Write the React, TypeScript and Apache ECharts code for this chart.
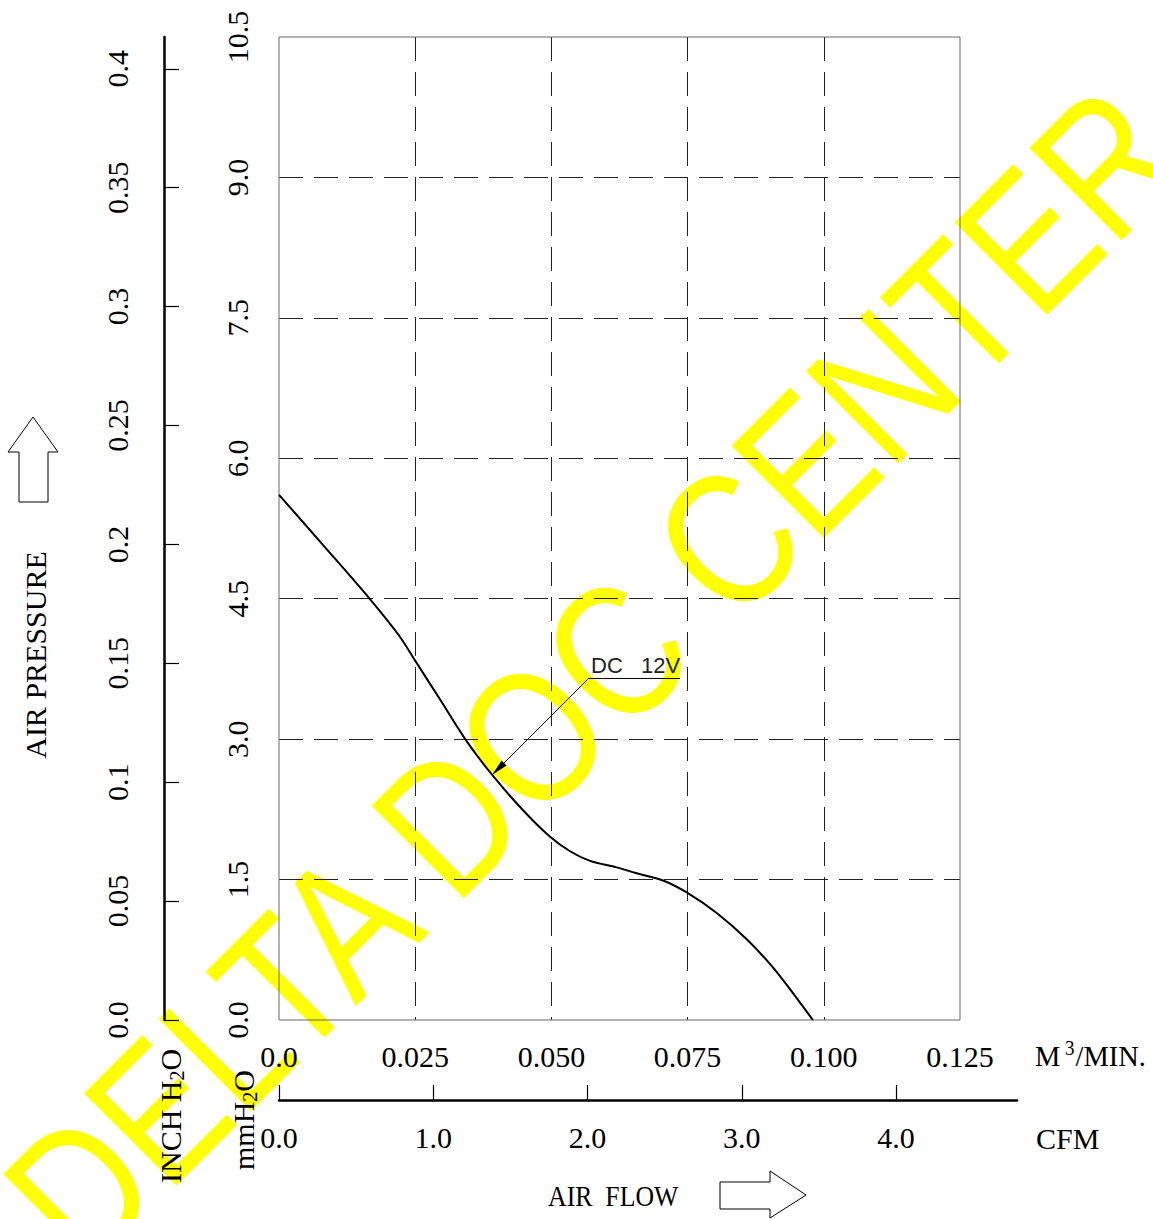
import React, { useEffect, useRef } from "react";
import * as echarts from "echarts";

// ---- data ----
const FLOW_M3 = [0, 0.0083, 0.0165, 0.022, 0.0252, 0.0296, 0.0343, 0.0391, 0.0448, 0.0497, 0.0535, 0.0571, 0.062, 0.0655, 0.0705, 0.0749, 0.0804, 0.0859, 0.0907, 0.0943, 0.098];
const PRESSURE_MM = [5.61, 5.06, 4.51, 4.11, 3.82, 3.42, 2.99, 2.62, 2.24, 1.96, 1.8, 1.7, 1.63, 1.57, 1.49, 1.36, 1.14, 0.86, 0.56, 0.29, 0];

const M3_MIN = 0;
const M3_MAX = 0.125;
const M3_STEP = 0.025;
const MM_MIN = 0;
const MM_MAX = 10.5;
const MM_STEP = 1.5;
const INCH_TICKS = [0, 0.05, 0.1, 0.15, 0.2, 0.25, 0.3, 0.35, 0.4];
const INCH_MAX = 10.5 / 25.4;
const CFM_TICKS = [0, 1, 2, 3, 4];
const CFM_MAX = 4.784;

const LABEL_ANCHOR = [0.0569, 3.653];
const LABEL_END = [0.0736, 3.653];
const ARROW_TIP = [0.0391, 2.617];
const CURVE_NAME = "DC   12V";

const SERIF = "'Liberation Serif', 'Times New Roman', serif";
const SANS = "'Liberation Sans', Arial, sans-serif";

export default function App() {
  const ref = useRef<HTMLDivElement>(null);

  useEffect(() => {
    const chart = echarts.init(ref.current!, null, { renderer: "svg" });
    const labelBase = { fontFamily: SERIF, fontSize: 30, color: "#000" };
    const dashed = { type: [24, 11], color: "#222", width: 1 };

    const option: any = {
      animation: false,
      backgroundColor: "#fff",
      textStyle: { fontFamily: SERIF },
      grid: [
        { left: 279, top: 37, width: 681, height: 983, show: true, borderColor: "#666", borderWidth: 1, backgroundColor: "transparent", z: 1 },
        { left: 279, top: 1080, width: 738, height: 20, show: false },
      ],
      xAxis: [
        {
          gridIndex: 0, type: "value", min: M3_MIN, max: M3_MAX, interval: M3_STEP,
          axisLine: { show: false }, axisTick: { show: false },
          axisLabel: { ...labelBase, margin: 21, formatter: (v: number) => (v === 0 ? "0.0" : v.toFixed(3)) },
          splitLine: { show: true, showMinLine: false, showMaxLine: false, lineStyle: dashed },
        },
        {
          gridIndex: 1, type: "value", min: 0, max: CFM_MAX,
          axisLine: { show: true, lineStyle: { color: "#000", width: 2.5 } },
          axisTick: { show: true, inside: true, length: 15, customValues: CFM_TICKS, lineStyle: { color: "#000", width: 1.2 } },
          axisLabel: { ...labelBase, margin: 22, customValues: CFM_TICKS, formatter: (v: number) => v.toFixed(1) },
          splitLine: { show: false },
        },
      ],
      yAxis: [
        {
          gridIndex: 0, type: "value", min: MM_MIN, max: MM_MAX, interval: MM_STEP,
          axisLine: { show: false }, axisTick: { show: false },
          axisLabel: { ...labelBase, rotate: 90, margin: 27, formatter: (v: number) => v.toFixed(1) },
          splitLine: { show: true, showMinLine: false, showMaxLine: false, lineStyle: dashed },
        },
        {
          gridIndex: 0, type: "value", position: "left", offset: 115, min: 0, max: INCH_MAX,
          axisLine: { show: true, lineStyle: { color: "#000", width: 2.5 } },
          axisTick: { show: true, inside: true, length: 15, customValues: INCH_TICKS, lineStyle: { color: "#000", width: 1.2 } },
          axisLabel: { ...labelBase, rotate: 90, margin: 32, customValues: INCH_TICKS, formatter: (v: number) => (v === 0 ? "0.0" : String(+v.toFixed(2))) },
          splitLine: { show: false },
        },
        { gridIndex: 1, type: "value", show: false, min: 0, max: 1 },
      ],
      series: [
        {
          type: "line",
          xAxisIndex: 0,
          yAxisIndex: 0,
          data: FLOW_M3.map((x, i) => [x, PRESSURE_MM[i]]),
          showSymbol: false,
          smooth: 0.3,
          z: 5,
          lineStyle: { color: "#000", width: 2 },
          markLine: {
            silent: true,
            animation: false,
            symbol: ["none", "none"],
            lineStyle: { type: "solid", color: "#000", width: 1 },
            label: { show: false },
            data: [
              [
                { coord: LABEL_ANCHOR, symbol: "none" },
                { coord: ARROW_TIP, symbol: "triangle", symbolSize: [7, 17], symbolOffset: [0, 8.5] },
              ],
              [
                {
                  coord: LABEL_ANCHOR, symbol: "none",
                  label: { show: true, position: "insideStartTop", distance: 2, formatter: CURVE_NAME, color: "#222", fontFamily: SANS, fontSize: 22 },
                },
                { coord: LABEL_END, symbol: "none" },
              ],
            ],
          },
        },
      ],
      graphic: [
        {
          type: "text", z: -10, x: 40, y: 1229, rotation: Math.PI / 4, scaleY: 1.2,
          style: { text: "DELTA DOC CENTER", fill: "#ffff00", fontSize: 158, fontFamily: SANS, textAlign: "left", textVerticalAlign: "middle", align: "left", verticalAlign: "middle" },
        },
        {
          type: "text", x: 35, y: 655, rotation: Math.PI / 2,
          style: { text: "AIR PRESSURE", fill: "#000", fontSize: 30, fontFamily: SERIF, textAlign: "center", textVerticalAlign: "middle", align: "center", verticalAlign: "middle" },
        },
        {
          type: "polygon", shape: { points: [[19, 502], [48, 502], [48, 452], [58, 452], [33, 417], [8, 452], [19, 452]] },
          style: { fill: "#fff", stroke: "#000", lineWidth: 1 },
        },
        {
          type: "polygon", shape: { points: [[720, 1182], [770, 1182], [770, 1171], [806, 1195], [770, 1218], [770, 1209], [720, 1209]] },
          style: { fill: "#fff", stroke: "#000", lineWidth: 1 },
        },
        {
          type: "text", x: 548, y: 1196, scaleX: 0.86,
          style: { text: "AIR  FLOW", fill: "#000", fontSize: 30, fontFamily: SERIF, textAlign: "left", textVerticalAlign: "middle", align: "left", verticalAlign: "middle" },
        },
        {
          type: "text", x: 1036, y: 1138,
          style: { text: "CFM", fill: "#000", fontSize: 30, fontFamily: SERIF, textAlign: "left", textVerticalAlign: "middle", align: "left", verticalAlign: "middle" },
        },
        {
          type: "text", x: 1035, y: 1056, scaleX: 0.95,
          style: {
            text: "{a|M}{p|3}{a|/MIN.}", fill: "#000", fontFamily: SERIF, fontSize: 30, textAlign: "left", textVerticalAlign: "middle", align: "left", verticalAlign: "middle",
            rich: {
              a: { fontSize: 30, fontFamily: SERIF, lineHeight: 36, fill: "#000", verticalAlign: "middle" },
              p: { fontSize: 20, fontFamily: SERIF, lineHeight: 20, fill: "#000", verticalAlign: "top", padding: [0, 1, 0, 5] },
            },
          },
        },
        {
          type: "text", x: 170, y: 1183, rotation: Math.PI / 2,
          style: {
            text: "{a|INCH H}{s|2}{a|O}", fill: "#000", fontFamily: SERIF, fontSize: 30, textAlign: "left", textVerticalAlign: "middle", align: "left", verticalAlign: "middle",
            rich: {
              a: { fontSize: 30, fontFamily: SERIF, lineHeight: 34, fill: "#000", verticalAlign: "middle" },
              s: { fontSize: 20, fontFamily: SERIF, lineHeight: 20, fill: "#000", verticalAlign: "bottom" },
            },
          },
        },
        {
          type: "text", x: 243, y: 1170, rotation: Math.PI / 2,
          style: {
            text: "{a|mmH}{s|2}{a|O}", fill: "#000", fontFamily: SERIF, fontSize: 30, textAlign: "left", textVerticalAlign: "middle", align: "left", verticalAlign: "middle",
            rich: {
              a: { fontSize: 30, fontFamily: SERIF, lineHeight: 34, fill: "#000", verticalAlign: "middle" },
              s: { fontSize: 20, fontFamily: SERIF, lineHeight: 20, fill: "#000", verticalAlign: "bottom" },
            },
          },
        },
      ],
    };

    chart.setOption(option);
    return () => chart.dispose();
  }, []);

  return <div ref={ref} style={{ position: "fixed", left: 0, top: 0, width: 1153, height: 1219, background: "#fff" }} />;
}
